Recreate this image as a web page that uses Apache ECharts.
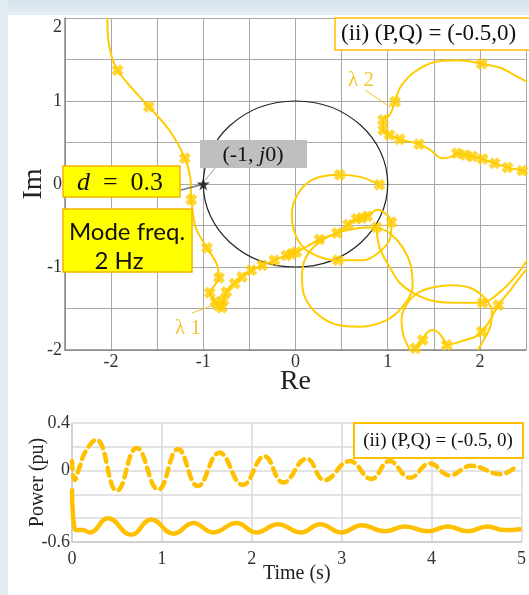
<!DOCTYPE html>
<html>
<head>
<meta charset="utf-8">
<script src="https://cdn.jsdelivr.net/npm/echarts@6/dist/echarts.min.js"></script>
<style>
html, body { margin: 0; padding: 0; background: #fff; }
#chart { width: 529px; height: 595px; }
</style>
</head>
<body>
<div id="chart"></div>
<script>
// ---- Nyquist plot (Re, Im) ----
const lambda1Path = [
  [-2.04, 2.00], [-2.03, 1.73], [-1.99, 1.52], [-1.93, 1.37], [-1.78, 1.16], [-1.59, 0.93],
  [-1.37, 0.65], [-1.20, 0.31], [-1.14, 0.07], [-1.13, -0.19], [-1.08, -0.53], [-0.96, -0.77],
  [-0.86, -0.95], [-0.83, -1.13], [-0.89, -1.24], [-0.93, -1.31], [-0.87, -1.42], [-0.80, -1.49],
  [-0.78, -1.40], [-0.75, -1.30], [-0.66, -1.20], [-0.58, -1.12], [-0.48, -1.04], [-0.36, -0.98],
  [-0.23, -0.92], [-0.10, -0.86], [0.01, -0.82], [0.26, -0.67], [0.45, -0.59], [0.57, -0.49],
  [0.66, -0.42], [0.72, -0.41], [0.78, -0.39], [0.89, -0.31], [0.99, -0.37], [1.04, -0.46],
  [1.03, -0.64], [0.91, -0.82], [0.73, -0.92], [0.46, -0.92], [0.15, -0.82], [0.01, -0.64],
  [-0.04, -0.37], [0.02, -0.13], [0.18, 0.05], [0.48, 0.11], [0.72, 0.08], [0.91, -0.01]
]
const loopPath = [
  [0.88, -0.52], [0.70, -0.53], [0.48, -0.58], [0.26, -0.70], [0.11, -0.89], [0.07, -1.12],
  [0.10, -1.36], [0.24, -1.57], [0.46, -1.70], [0.70, -1.72], [0.97, -1.65], [1.16, -1.48],
  [1.27, -1.24], [1.25, -0.98], [1.16, -0.76], [1.02, -0.59], [0.88, -0.52], [0.91, -0.76],
  [1.02, -1.00], [1.13, -1.19], [1.27, -1.31], [1.46, -1.40], [1.71, -1.43], [2.03, -1.43],
  [2.22, -1.30], [2.38, -1.12], [2.53, -0.89]
]
const lowLoopPath = [
  [1.24, -2.00], [1.17, -1.82], [1.15, -1.64], [1.20, -1.46], [1.33, -1.31], [1.51, -1.24],
  [1.70, -1.22], [1.89, -1.25], [2.04, -1.36], [2.13, -1.54], [2.11, -1.73], [2.04, -1.88],
  [1.98, -2.00]
]
const hookPath = [
  [1.30, -1.98], [1.38, -1.88], [1.42, -1.80], [1.48, -1.76], [1.54, -1.78], [1.60, -1.86],
  [1.64, -1.94], [1.78, -1.90], [1.95, -1.84], [2.02, -1.78], [2.11, -1.64], [2.20, -1.46],
  [2.33, -1.28], [2.43, -1.13], [2.53, -1.00]
]
const lambda2Path = [
  [2.53, 1.22], [2.38, 1.31], [2.22, 1.40], [2.02, 1.45], [1.75, 1.49], [1.51, 1.47],
  [1.29, 1.35], [1.15, 1.19], [1.10, 1.07], [1.08, 0.99], [1.02, 0.83], [0.95, 0.77],
  [0.95, 0.65], [1.02, 0.59], [1.13, 0.54], [1.34, 0.48], [1.46, 0.41], [1.59, 0.31],
  [1.70, 0.33], [1.75, 0.37], [1.84, 0.35], [1.92, 0.33], [2.03, 0.30], [2.16, 0.25],
  [2.30, 0.20], [2.46, 0.16], [2.53, 0.13]
]
const freqMarks = [
  [-1.93, 1.37], [-1.59, 0.93], [-1.20, 0.31], [-1.13, -0.19], [-0.96, -0.77], [-0.83, -1.13],
  [-0.93, -1.31], [-0.87, -1.42], [-0.80, -1.49], [-0.84, -1.46], [-0.78, -1.40], [-0.75, -1.30],
  [-0.66, -1.20], [-0.58, -1.12], [-0.48, -1.04], [-0.36, -0.98], [-0.23, -0.92], [-0.10, -0.86],
  [-0.04, -0.84], [0.01, -0.82], [0.26, -0.67], [0.45, -0.59], [0.57, -0.49], [0.66, -0.42],
  [0.72, -0.41], [0.78, -0.39], [1.04, -0.46], [0.46, -0.92], [0.48, 0.11], [0.91, -0.01],
  [0.88, -0.52], [2.03, -1.43], [2.20, -1.46], [2.02, -1.78], [1.64, -1.94], [1.38, -1.88],
  [1.30, -1.98],
  [2.02, 1.45], [1.08, 0.99], [0.95, 0.77], [0.95, 0.65], [1.02, 0.59], [1.13, 0.54],
  [1.34, 0.48], [1.75, 0.37], [1.84, 0.35], [1.92, 0.33], [2.03, 0.30], [2.16, 0.25],
  [2.30, 0.20], [2.46, 0.16]
]
const criticalPoint = [[-1, 0]]

// ---- time response ----
const timeP = [0, 0.02, 0.05, 0.12, 0.20, 0.40, 0.66, 0.88, 1.13, 1.35, 1.57, 1.83, 2.05, 2.29,
  2.55, 2.76, 3.00, 3.22, 3.48, 3.70, 3.96, 4.18, 4.40, 4.62, 4.81, 5.0]
const powerP = [-0.15, -0.45, -0.50, -0.50, -0.52, -0.40, -0.54, -0.41, -0.53, -0.44, -0.52, -0.44,
  -0.52, -0.45, -0.52, -0.45, -0.52, -0.46, -0.51, -0.47, -0.51, -0.47, -0.51, -0.47, -0.50, -0.49]
const timeQ = [0, 0.03, 0.08, 0.15, 0.27, 0.50, 0.72, 0.96, 1.18, 1.40, 1.64, 1.90, 2.14, 2.35,
  2.61, 2.81, 3.09, 3.33, 3.53, 3.76, 3.98, 4.20, 4.44, 4.77, 4.95]
const powerQ = [0.08, -0.08, 0.02, 0.16, 0.26, -0.17, 0.19, -0.16, 0.18, -0.13, 0.15, -0.12, 0.12,
  -0.10, 0.10, -0.08, 0.08, -0.07, 0.08, -0.06, 0.06, -0.04, 0.04, -0.03, 0.04]

const nyqTicks = [-2, -1, 0, 1, 2]
const powerTicks = [0.4, 0, -0.6]

const gold = '#FFCC00'
const orange = '#FFC000'
const serif = 'Liberation Serif'
const crossSymbol = 'path://M0,3.5 L3.5,0 L6,2.5 L8.5,0 L12,3.5 L9.5,6 L12,8.5 L8.5,12 L6,9.5 L3.5,12 L0,8.5 L2.5,6 Z'
const starSymbol = 'path://M50,0 L61,35 L98,35 L68,57 L79,91 L50,70 L21,91 L32,57 L2,35 L39,35 Z'

function isTick(list, v) {
  return list.some(t => Math.abs(t - v) < 1e-6)
}

function curve(data) {
  return {
    type: 'line',
    xAxisIndex: 0,
    yAxisIndex: 0,
    data: data,
    showSymbol: false,
    smooth: 0.35,
    silent: true,
    lineStyle: { color: gold, width: 2 },
    z: 3
  }
}

function pairs(xs, ys) {
  return xs.map((x, i) => [x, ys[i]])
}

const chart = echarts.init(document.getElementById('chart'))

chart.setOption({
  backgroundColor: '#ffffff',
  animation: false,
  grid: [
    { left: 65, top: 18, width: 461, height: 332 },
    { left: 72, top: 423, width: 450, height: 119 }
  ],
  xAxis: [
    {
      gridIndex: 0,
      type: 'value',
      min: -2.5,
      max: 2.5,
      interval: 0.5,
      name: 'Re',
      nameLocation: 'middle',
      nameGap: 18,
      nameMoveOverlap: false,
      nameTextStyle: { fontFamily: serif, fontSize: 28, color: '#222' },
      axisLine: { onZero: false, lineStyle: { color: '#888', width: 1.5 } },
      axisTick: { show: false },
      axisLabel: {
        margin: 3,
        fontFamily: serif,
        fontSize: 18,
        color: '#333',
        formatter: v => isTick(nyqTicks, v) ? String(Math.round(v)) : ''
      },
      splitLine: { lineStyle: { color: '#a8a8a8', width: 1 } }
    },
    {
      gridIndex: 1,
      type: 'value',
      min: 0,
      max: 5,
      interval: 1,
      name: 'Time (s)',
      nameLocation: 'middle',
      nameGap: 22,
      nameMoveOverlap: false,
      nameTextStyle: { fontFamily: serif, fontSize: 20, color: '#222' },
      axisLine: { onZero: false, lineStyle: { color: '#cccccc', width: 1.5 } },
      axisTick: { show: false },
      axisLabel: { margin: 8, fontFamily: serif, fontSize: 18, color: '#333' },
      splitLine: { lineStyle: { color: '#dadada', width: 1.5 } }
    }
  ],
  yAxis: [
    {
      gridIndex: 0,
      type: 'value',
      min: -2,
      max: 2,
      interval: 0.5,
      name: 'Im',
      nameLocation: 'middle',
      nameGap: 17,
      nameMoveOverlap: false,
      nameTextStyle: { fontFamily: serif, fontSize: 28, color: '#222' },
      axisLine: { onZero: false, lineStyle: { color: '#888', width: 1.5 } },
      axisTick: { show: false },
      axisLabel: {
        margin: 3,
        fontFamily: serif,
        fontSize: 18,
        color: '#333',
        verticalAlignMaxLabel: 'top',
        formatter: v => isTick(nyqTicks, v) ? String(Math.round(v)) : ''
      },
      splitLine: { lineStyle: { color: '#a8a8a8', width: 1 } }
    },
    {
      gridIndex: 1,
      type: 'value',
      min: -0.6,
      max: 0.4,
      interval: 0.2,
      name: 'Power (pu)',
      nameLocation: 'middle',
      nameGap: 24,
      nameMoveOverlap: false,
      nameTextStyle: { fontFamily: serif, fontSize: 20, color: '#222' },
      axisLine: { onZero: false, lineStyle: { color: '#cccccc', width: 1.5 } },
      axisTick: { show: false },
      axisLabel: {
        margin: 2,
        fontFamily: serif,
        fontSize: 18,
        color: '#333',
        formatter: v => {
          if (!isTick(powerTicks, v)) return ''
          return Math.abs(v) < 1e-6 ? '0' : String(Math.round(v * 10) / 10)
        }
      },
      splitLine: { lineStyle: { color: '#dadada', width: 1.5 } }
    }
  ],
  series: [
    curve(lambda1Path),
    curve(loopPath),
    curve(lowLoopPath),
    curve(hookPath),
    curve(lambda2Path),
    {
      type: 'scatter',
      xAxisIndex: 0,
      yAxisIndex: 0,
      data: freqMarks,
      symbol: crossSymbol,
      symbolSize: 12,
      silent: true,
      itemStyle: { color: gold },
      z: 4
    },
    {
      type: 'scatter',
      xAxisIndex: 0,
      yAxisIndex: 0,
      data: criticalPoint,
      symbol: starSymbol,
      symbolSize: 13,
      silent: true,
      itemStyle: { color: '#111' },
      z: 12
    },
    {
      type: 'line',
      xAxisIndex: 1,
      yAxisIndex: 1,
      data: pairs(timeQ, powerQ),
      showSymbol: false,
      smooth: 0.45,
      silent: true,
      lineStyle: { color: orange, width: 4.5, type: [8, 6], cap: 'round' }
    },
    {
      type: 'line',
      xAxisIndex: 1,
      yAxisIndex: 1,
      data: pairs(timeP, powerP),
      showSymbol: false,
      smooth: 0.45,
      silent: true,
      lineStyle: { color: orange, width: 4.5 }
    }
  ]
})

// unit circle and annotations, placed through the Nyquist axes
const c0 = chart.convertToPixel({ gridIndex: 0 }, [0, 0])
const cx1 = chart.convertToPixel({ gridIndex: 0 }, [1, 0])
const cy1 = chart.convertToPixel({ gridIndex: 0 }, [0, 1])
const star = chart.convertToPixel({ gridIndex: 0 }, criticalPoint[0])

chart.setOption({
  graphic: [
    { type: 'rect', shape: { x: 0, y: 0, width: 529, height: 15 }, style: { fill: new echarts.graphic.LinearGradient(0, 0, 0, 1, [{ offset: 0, color: '#d5e3ec' }, { offset: 1, color: '#e6eef3' }]) }, silent: true },
    { type: 'rect', shape: { x: 0, y: 0, width: 8, height: 595 }, style: { fill: '#e1ebf1' }, silent: true },
    {
      type: 'ellipse',
      shape: { cx: c0[0], cy: c0[1], rx: cx1[0] - c0[0], ry: c0[1] - cy1[1] },
      style: { fill: 'none', stroke: '#222', lineWidth: 1.2 },
      silent: true,
      z: 2
    },
    // (-1, j0) label
    { type: 'line', shape: { x1: 216, y1: 167, x2: star[0] + 2, y2: star[1] - 4 }, style: { stroke: '#9a9a9a', lineWidth: 1 }, z: 10 },
    { type: 'rect', shape: { x: 200, y: 140, width: 107, height: 28 }, style: { fill: '#bfbfbf' }, z: 10 },
    {
      type: 'text', x: 253, y: 155, z: 11,
      style: {
        text: '(-1, {i|j}0)',
        font: '22px "Liberation Serif"',
        fill: '#111',
        align: 'center',
        verticalAlign: 'middle',
        rich: { i: { fontStyle: 'italic', fontFamily: serif, fontSize: 22, fill: '#111' } }
      }
    },
    // d = 0.3
    { type: 'line', shape: { x1: 181, y1: 190, x2: star[0] - 3, y2: star[1] + 1 }, style: { stroke: '#777', lineWidth: 1.5 }, z: 10 },
    { type: 'rect', shape: { x: 63, y: 166, width: 117, height: 31 }, style: { fill: '#ffff00', stroke: '#f5b400', lineWidth: 1.5 }, z: 10 },
    {
      type: 'text', x: 120, y: 183, z: 11,
      style: {
        text: '{i|d}  =  0.3',
        font: '26px "Liberation Serif"',
        fill: '#111',
        align: 'center',
        verticalAlign: 'middle',
        rich: { i: { fontStyle: 'italic', fontFamily: serif, fontSize: 26, fill: '#111' } }
      }
    },
    // Mode freq.
    { type: 'rect', shape: { x: 63, y: 209, width: 129, height: 63 }, style: { fill: '#ffff00', stroke: '#f5b400', lineWidth: 1.5 }, z: 10 },
    {
      type: 'text', x: 127, y: 232, z: 11,
      style: { text: 'Mode freq.', font: '24px Lato', fill: '#111', align: 'center', verticalAlign: 'middle' }
    },
    {
      type: 'text', x: 119, y: 261, z: 11,
      style: { text: '2 Hz', font: '24px Lato', fill: '#111', align: 'center', verticalAlign: 'middle' }
    },
    // lambda labels
    { type: 'line', shape: { x1: 365, y1: 90, x2: 390, y2: 107 }, style: { stroke: '#f4c430', lineWidth: 1 }, z: 10 },
    { type: 'text', x: 348, y: 80, z: 11, style: { text: 'λ 2', font: '21px "Liberation Serif"', fill: '#f4c430', verticalAlign: 'middle' } },
    { type: 'line', shape: { x1: 192, y1: 313, x2: 214, y2: 305 }, style: { stroke: '#f4c430', lineWidth: 1 }, z: 10 },
    { type: 'text', x: 175, y: 328, z: 11, style: { text: 'λ 1', font: '21px "Liberation Serif"', fill: '#f4c430', verticalAlign: 'middle' } },
    // case boxes
    { type: 'rect', shape: { x: 335, y: 18, width: 200, height: 32 }, style: { fill: '#ffffff', stroke: orange, lineWidth: 1.5 }, z: 10 },
    { type: 'text', x: 341, y: 34, z: 11, style: { text: '(ii) (P,Q) = (-0.5,0)', font: '23px "Liberation Serif"', fill: '#111', verticalAlign: 'middle' } },
    { type: 'rect', shape: { x: 354, y: 423, width: 169, height: 35 }, style: { fill: '#ffffff', stroke: orange, lineWidth: 2 }, z: 10 },
    { type: 'text', x: 438, y: 441, z: 11, style: { text: '(ii) (P,Q) = (-0.5, 0)', font: '19px "Liberation Serif"', fill: '#111', align: 'center', verticalAlign: 'middle' } }
  ]
})
</script>
</body>
</html>
